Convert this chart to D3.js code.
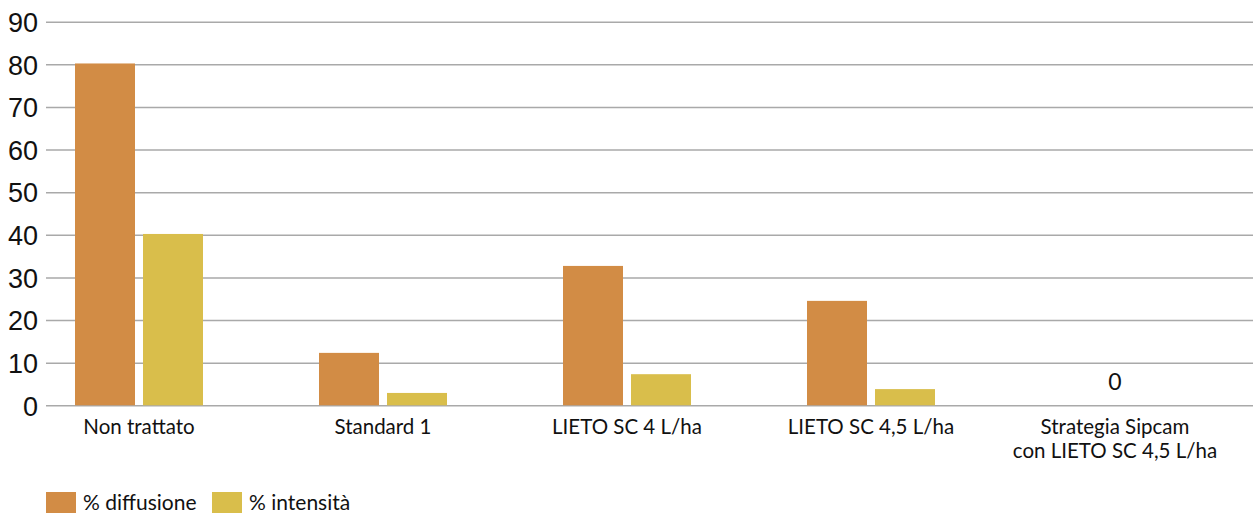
<!DOCTYPE html>
<html>
<head>
<meta charset="utf-8">
<script src="https://cdn.jsdelivr.net/npm/d3@7"></script>
<style>
  html, body { margin: 0; padding: 0; background: #fff; }
  svg { display: block; font-family: Lato, "Open Sans", sans-serif; }
</style>
</head>
<body>
<svg id="chart" width="1253" height="518"></svg>
<script>
const categories = [
  "Non trattato",
  "Standard 1",
  "LIETO SC 4 L/ha",
  "LIETO SC 4,5 L/ha",
  "Strategia Sipcam\ncon LIETO SC 4,5 L/ha"
];
const seriesNames = ["% diffusione", "% intensità"];
const diffusione = [80.2, 12.3, 32.7, 24.5, 0];
const intensita = [40.2, 2.9, 7.3, 3.8, 0];
const yTicks = [0, 10, 20, 30, 40, 50, 60, 70, 80, 90];
const colors = ["#D28C45", "#D9BE4B"];

const svg = d3.select("#chart");
const gridLeft = 46, gridRight = 1253;
const yTop = 21.7, yBottom = 405.3;

const y = d3.scaleLinear().domain([0, 90]).range([yBottom, yTop]);
const x0 = d3.scaleBand().domain(categories).range([17, 1237]).paddingInner(0).paddingOuter(0);
const x1 = d3.scaleBand().domain(seriesNames).range([x0.bandwidth()/2 - 64, x0.bandwidth()/2 + 64]).paddingInner(8/68).paddingOuter(0);

// gridlines + tick labels
const yAxis = d3.axisLeft(y).tickValues(yTicks).tickSize(-(gridRight - gridLeft)).tickPadding(8).tickFormat(d3.format("d"));
const gAxis = svg.append("g").attr("transform", `translate(${gridLeft},0)`).call(yAxis);
gAxis.select(".domain").remove();
gAxis.selectAll(".tick line").attr("stroke", "#a9a9a9").attr("stroke-width", 1.6);
gAxis.selectAll(".tick text").attr("fill", "#111").style("font-size", "27px").attr("dy", "0.36em");

// bars
const data = categories.map((c, i) => ({ cat: c, vals: [diffusione[i], intensita[i]] }));
const groups = svg.append("g").selectAll("g").data(data).join("g")
  .attr("transform", d => `translate(${x0(d.cat)},0)`);
groups.selectAll("rect").data(d => d.vals.map((v, j) => ({ v, s: seriesNames[j], j })))
  .join("rect")
  .attr("x", d => x1(d.s))
  .attr("width", x1.bandwidth())
  .attr("y", d => y(d.v))
  .attr("height", d => y(0) - y(d.v))
  .attr("fill", d => colors[d.j]);

// zero label for groups whose values are all zero
groups.filter(d => d.vals.every(v => v === 0))
  .append("text")
  .attr("x", x0.bandwidth()/2)
  .attr("y", y(0) - 15)
  .attr("text-anchor", "middle")
  .attr("fill", "#111")
  .style("font-size", "23px")
  .text("0");

// category labels (one text element per line)
const lineData = [];
categories.forEach(c => c.split("\n").forEach((ln, k) => lineData.push({ c, ln, k })));
svg.append("g").selectAll("text").data(lineData).join("text")
  .attr("x", d => x0(d.c) + x0.bandwidth()/2)
  .attr("y", d => 434 + d.k * 24)
  .attr("text-anchor", "middle")
  .attr("fill", "#111")
  .style("font-size", "20.5px")
  .text(d => d.ln);

// legend
const legendX = [46, 212];
const legend = svg.append("g").selectAll("g").data(seriesNames).join("g")
  .attr("transform", (d, i) => `translate(${legendX[i]},492)`);
legend.append("rect").attr("width", 30).attr("height", 21).attr("fill", (d, i) => colors[i]);
legend.append("text").attr("x", 37).attr("y", 18).attr("fill", "#111").style("font-size", "21px").text(d => d);
</script>
</body>
</html>
